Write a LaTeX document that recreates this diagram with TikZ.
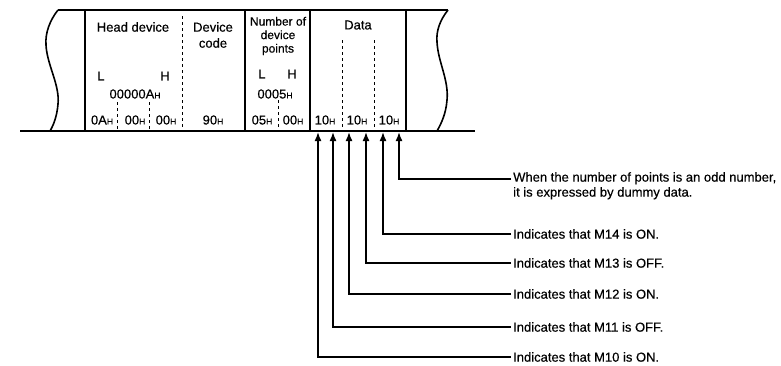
\documentclass[tikz,border=0pt]{standalone}
\usepackage{fontspec}
\setmainfont[FakeBold=0.4]{Liberation Sans}
\usetikzlibrary{arrows.meta}
\newcommand{\hsub}{{\fontsize{8.5}{8.5}\selectfont H}}
\begin{document}
\begin{tikzpicture}[x=1pt,y=-1pt,
  frame/.style={line width=1.6pt},
  dsh/.style={line width=1pt, dash pattern=on 3pt off 3pt},
  txt/.style={font=\fontsize{13}{14}\selectfont, inner sep=0pt},
  sm/.style={font=\fontsize{12}{14}\selectfont, inner sep=0pt, align=center},
  lbl/.style={font=\fontsize{13}{15}\selectfont, inner xsep=2pt, inner ysep=0pt, align=left},
  arr/.style={line width=1.6pt, -{Latex[length=9pt,width=7pt]}}]
\useasboundingbox (0,0) rectangle (781,365);

% frame
\draw[frame] (58,10) -- (448,10);
\draw[frame] (20,131) -- (475,131);
\draw[frame] (58,10) .. controls (50,20) and (45,33) .. (46,45)
  .. controls (47,65) and (60,85) .. (58,104) .. controls (57,117) and (53,126) .. (50,131);
\draw[frame] (448,10) .. controls (440,20) and (436,31) .. (437,42)
  .. controls (438,62) and (449,80) .. (447,100) .. controls (446,114) and (441,124) .. (437,131);
\draw[frame] (85,10) -- (85,131);
\draw[frame] (245,10) -- (245,131);
\draw[frame] (310,10) -- (310,131);
\draw[frame] (406,10) -- (406,131);
\draw[dsh] (182,16) -- (182,131);
\draw[dsh] (117,102) -- (117,131);
\draw[dsh] (149,102) -- (149,131);
\draw[dsh] (278,100) -- (278,131);
\draw[dsh] (342,40) -- (342,131);
\draw[dsh] (374,40) -- (374,131);

% headings
\node[txt] (hd) at (133,27) {Head device};
\node[txt] (dc1) at (213,27) {Device};
\node[txt] (dc2) at (213,43) {code};
\node[sm] (np) at (278,36) {Number of\\[-0.5pt]device\\[-0.5pt]points};
\node[txt] (dt) at (358,25) {Data};

\node[txt] (hl) at (101,76) {L};
\node[txt] (hh) at (165,76) {H};
\node[txt] (hv) at (135,94) {00000A\hsub};
\node[txt] (pl) at (262,74) {L};
\node[txt] (ph) at (292,74) {H};
\node[txt] (pv) at (275,94) {0005\hsub};

\node[txt] (b1) at (102,120) {0A\hsub};
\node[txt] (b2) at (135,120) {00\hsub};
\node[txt] (b3) at (166,120) {00\hsub};
\node[txt] (b4) at (213,120) {90\hsub};
\node[txt] (b5) at (262,120) {05\hsub};
\node[txt] (b6) at (293,120) {00\hsub};
\node[txt] (b7) at (325,120) {10\hsub};
\node[txt] (b8) at (357,120) {10\hsub};
\node[txt] (b9) at (389,120) {10\hsub};

% arrow targets
\coordinate (t0) at (318,132);
\coordinate (t1) at (333,132);
\coordinate (t2) at (349,132);
\coordinate (t3) at (366,132);
\coordinate (t4) at (383,132);
\coordinate (t5) at (399,132);

% labels
\node[lbl, anchor=north west] (l5) at (511,172) {When the number of points is an odd number,\\it is expressed by dummy data.};
\coordinate (c5) at (511,179);
\node[lbl, anchor=west] (l4) at (511,234) {Indicates that M14 is ON.};
\node[lbl, anchor=west] (l3) at (511,263) {Indicates that M13 is OFF.};
\node[lbl, anchor=west] (l2) at (511,294) {Indicates that M12 is ON.};
\node[lbl, anchor=west] (l1) at (511,327) {Indicates that M11 is OFF.};
\node[lbl, anchor=west] (l0) at (511,357) {Indicates that M10 is ON.};

\draw[arr] (c5) -| (t5);
\draw[arr] (l4.west) -| (t4);
\draw[arr] (l3.west) -| (t3);
\draw[arr] (l2.west) -| (t2);
\draw[arr] (l1.west) -| (t1);
\draw[arr] (l0.west) -| (t0);
\end{tikzpicture}
\end{document}
